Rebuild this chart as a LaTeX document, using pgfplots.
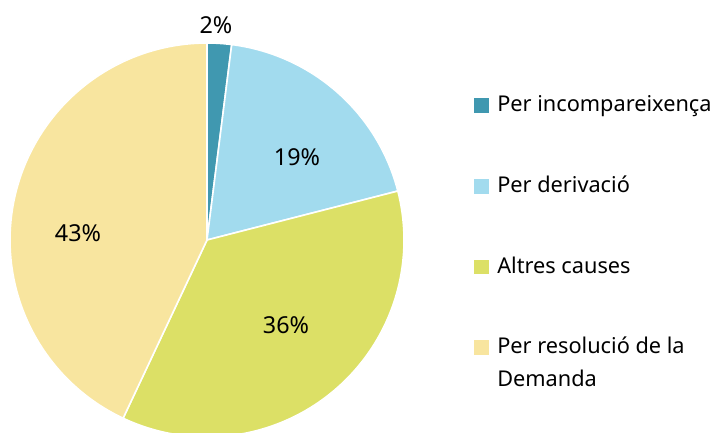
\documentclass[border=0pt]{standalone}
\usepackage{fontspec}
\setmainfont{Noto Sans}
\usepackage{pgfplots}
\pgfplotsset{compat=1.18}
\definecolor{cA}{HTML}{4098B0}
\definecolor{cB}{HTML}{A2DBEE}
\definecolor{cC}{HTML}{DCE066}
\definecolor{cD}{HTML}{F8E59F}
% shares (percent), clockwise from the top
\def\pA{2}
\def\pB{19}
\def\pC{36}
\def\pD{43}
\begin{document}
\begin{tikzpicture}
\pgfmathsetmacro\aA{90-3.6*\pA}
\pgfmathsetmacro\aB{\aA-3.6*\pB}
\pgfmathsetmacro\aC{\aB-3.6*\pC}
\pgfmathsetmacro\aD{\aC-3.6*\pD}
\begin{axis}[
  scale only axis, width=532.5pt, height=324pt,
  xmin=0, xmax=710, ymin=0, ymax=432,
  hide axis, clip=true,
  legend style={draw=none, fill=none, at={(axis cs:474,337)}, anchor=north west,
    inner sep=0pt, row sep=44pt, column sep=6pt,
    nodes={inner sep=0pt, text height=12.5pt, text depth=4pt, anchor=base west},
    font=\fontsize{16.3}{24.75}\selectfont},
  legend cell align=left,
  legend image code/.code={\fill[#1,draw=none] (0pt,-0.8pt) rectangle (11.25pt,10.2pt);},
]
\addplot[fill=cA, draw=white, line width=1.2pt, domain=\aA:90, samples=20, variable=\t]
  ({207+197*cos(\t)},{192+197*sin(\t)}) -- (axis cs:207,192) -- cycle;
\addlegendentry{Per incompareixença}
\addplot[fill=cB, draw=white, line width=1.2pt, domain=\aB:\aA, samples=60, variable=\t]
  ({207+197*cos(\t)},{192+197*sin(\t)}) -- (axis cs:207,192) -- cycle;
\addlegendentry{Per derivació}
\addplot[fill=cC, draw=white, line width=1.2pt, domain=\aC:\aB, samples=100, variable=\t]
  ({207+197*cos(\t)},{192+197*sin(\t)}) -- (axis cs:207,192) -- cycle;
\addlegendentry{Altres causes}
\addplot[fill=cD, draw=white, line width=1.2pt, domain=\aD:\aC, samples=100, variable=\t]
  ({207+197*cos(\t)},{192+197*sin(\t)}) -- (axis cs:207,192) -- cycle;
\addlegendentry{\begin{tabular}[t]{@{}l@{}}Per resolució de la\\Demanda\end{tabular}}
\begin{scope}[every node/.style={font=\fontsize{17.5}{20}\selectfont, inner sep=0pt}]
\node at (axis cs:216,407) {\pA\%};
\node at (axis cs:297,275) {\pB\%};
\node at (axis cs:286,107) {\pC\%};
\node at (axis cs:78,199) {\pD\%};
\end{scope}
\end{axis}
\pgfresetboundingbox
\useasboundingbox (0,0) rectangle (532.5pt,324pt);
\end{tikzpicture}
\end{document}
